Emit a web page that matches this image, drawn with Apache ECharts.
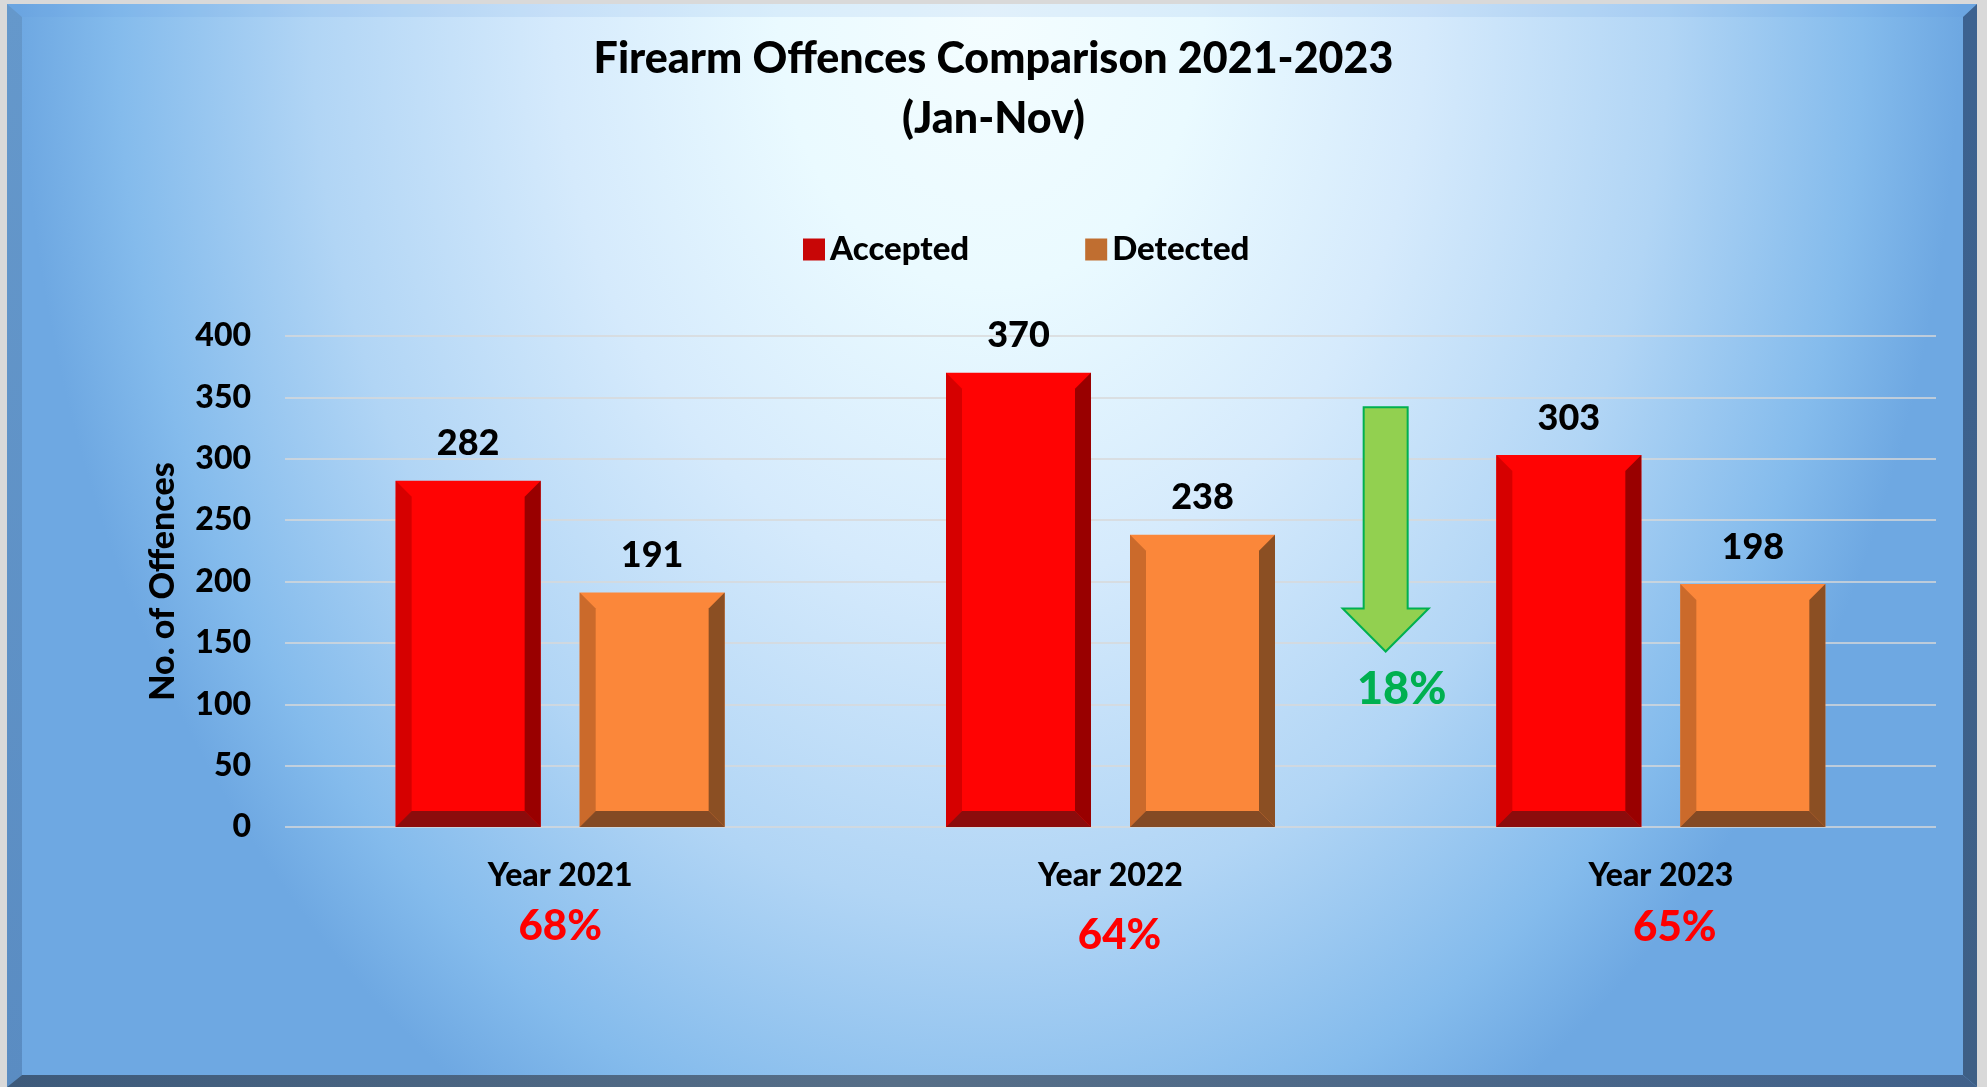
<!DOCTYPE html>
<html>
<head>
<meta charset="utf-8">
<title>Firearm Offences Comparison 2021-2023</title>
<script src="https://cdn.jsdelivr.net/npm/echarts@6/dist/echarts.min.js"></script>
<style>
    html, body { margin: 0; padding: 0; background: #d9d9d9; }
    #main { width: 1987px; height: 1087px; }
</style>
</head>
<body>
<div id="main"></div>
<script>
// data
var years = ['Year 2021', 'Year 2022', 'Year 2023'];
var accepted = [282, 370, 303];
var detected = [191, 238, 198];
var detectionRate = ['68%', '64%', '65%'];
var dropText = '18%';
var yMin = 0, yMax = 400, yStep = 50;

var FONT = 'Lato, "Open Sans", sans-serif';
var W = 900; // heavy weight, closer to the original's bold face
var BAR_W = 145;
var BAR_SHIFT = 92;
var BEVEL = 16;

var redBar = { face: '#ff0303', left: '#d60000', right: '#990000', bottom: '#8c0c0c' };
var orangeBar = { face: '#fb873a', left: '#cb6a2b', right: '#8b4f23', bottom: '#844a24' };

function bevelBar(shift, c) {
    return function (params, api) {
        var w = BAR_W, b = BEVEL;
        var top = api.coord([api.value(0), api.value(1)]);
        var base = api.coord([api.value(0), 0]);
        var x0 = top[0] + shift - w / 2, x1 = x0 + w;
        var y0 = top[1], y1 = base[1];
        return {
            type: 'group',
            children: [
                { type: 'rect', shape: { x: x0, y: y0, width: w, height: y1 - y0 }, style: { fill: c.face } },
                { type: 'polygon', shape: { points: [[x0, y0], [x0 + b, y0 + b], [x0 + b, y1 - b], [x0, y1]] }, style: { fill: c.left } },
                { type: 'polygon', shape: { points: [[x1, y0], [x1 - b, y0 + b], [x1 - b, y1 - b], [x1, y1]] }, style: { fill: c.right } },
                { type: 'polygon', shape: { points: [[x0, y1], [x0 + b, y1 - b], [x1 - b, y1 - b], [x1, y1]] }, style: { fill: c.bottom } },
                {
                    type: 'text', x: (x0 + x1) / 2, y: y0 - 37,
                    style: {
                        text: String(api.value(1)), fill: '#000', font: W + ' 36px ' + FONT,
                        align: 'center', verticalAlign: 'middle', textAlign: 'center', textVerticalAlign: 'middle'
                    }
                }
            ]
        };
    };
}

var dom = document.getElementById('main');
var myChart = echarts.init(dom, null, { renderer: 'canvas' });

var option = {
    backgroundColor: '#d9d9d9',
    animation: false,
    title: {
        text: 'Firearm Offences Comparison 2021-2023\n(Jan-Nov)',
        left: 'center',
        top: 24,
        textStyle: { fontFamily: FONT, fontSize: 43, fontWeight: W, color: '#000', lineHeight: 60 }
    },
    legend: {
        left: 798,
        top: 228,
        itemWidth: 22,
        itemHeight: 22,
        itemGap: 116,
        icon: 'rect',
        textStyle: { fontFamily: FONT, fontSize: 33, fontWeight: W, color: '#000' },
        data: [
            { name: 'Accepted', itemStyle: { color: '#c80606' } },
            { name: 'Detected', itemStyle: { color: '#c06e30' } }
        ]
    },
    grid: { left: 285, right: 51, top: 336, bottom: 260 },
    xAxis: {
        type: 'category',
        data: years,
        axisLine: { show: false },
        axisTick: { show: false },
        axisLabel: {
            interval: 0,
            margin: 29,
            fontFamily: FONT,
            fontSize: 32,
            fontWeight: W,
            color: '#000',
            lineHeight: 40,
            formatter: function (value, index) {
                return value + '\n{p' + index + '|' + detectionRate[index] + '}';
            },
            rich: {
                p0: { color: '#ff0000', fontFamily: FONT, fontSize: 42, fontWeight: W, lineHeight: 60, verticalAlign: 'middle' },
                p1: { color: '#ff0000', fontFamily: FONT, fontSize: 42, fontWeight: W, lineHeight: 78, verticalAlign: 'middle', padding: [0, 0, 0, 18] },
                p2: { color: '#ff0000', fontFamily: FONT, fontSize: 42, fontWeight: W, lineHeight: 62, verticalAlign: 'middle', padding: [0, 0, 0, 28] }
            }
        }
    },
    yAxis: {
        type: 'value',
        min: yMin,
        max: yMax,
        interval: yStep,
        name: 'No. of Offences',
        nameLocation: 'middle',
        nameGap: 105,
        nameTextStyle: { fontFamily: FONT, fontSize: 34, fontWeight: W, color: '#000' },
        axisLine: { show: false },
        axisTick: { show: false },
        axisLabel: { margin: 34, fontFamily: FONT, fontSize: 32, fontWeight: W, color: '#000' },
        splitLine: { show: true, lineStyle: { color: '#d9d9d9', width: 1.5 } }
    },
    series: [
        {
            name: 'Accepted',
            type: 'custom',
            itemStyle: { color: '#c80606' },
            encode: { x: 0, y: 1 },
            renderItem: bevelBar(-BAR_SHIFT, redBar),
            data: accepted.map(function (v, i) { return [i, v]; }),
            z: 3
        },
        {
            name: 'Detected',
            type: 'custom',
            itemStyle: { color: '#c06e30' },
            encode: { x: 0, y: 1 },
            renderItem: bevelBar(BAR_SHIFT, orangeBar),
            data: detected.map(function (v, i) { return [i, v]; }),
            z: 3
        }
    ]
};
myChart.setOption(option);

// frame, background and the drop arrow between 2022 and 2023
var xa = myChart.convertToPixel({ xAxisIndex: 0 }, years[1]);
var xb = myChart.convertToPixel({ xAxisIndex: 0 }, years[2]);
var cx = (xa + xb) / 2;
var yTop = myChart.convertToPixel({ yAxisIndex: 0 }, 342);
var yNeck = myChart.convertToPixel({ yAxisIndex: 0 }, 178);
var yTip = myChart.convertToPixel({ yAxisIndex: 0 }, 143);
var yDrop = myChart.convertToPixel({ yAxisIndex: 0 }, 112);

var panelH = (1087 - 4) / 1.33;
myChart.setOption({
    graphic: [
        {
            type: 'rect', id: 'panel', x: 7, y: 4, scaleY: 1.33, z: -10, silent: true,
            shape: { x: 0, y: 0, width: 1970, height: panelH },
            style: {
                fill: {
                    type: 'radial', x: 0.499, y: 0, r: 970 / panelH,
                    colorStops: [
                        { offset: 0, color: '#f4fdff' },
                        { offset: 0.22, color: '#eafaff' },
                        { offset: 0.45, color: '#d5eafc' },
                        { offset: 0.7, color: '#b1d5f5' },
                        { offset: 0.9, color: '#84bbec' },
                        { offset: 1, color: '#6ea8e2' }
                    ]
                }
            }
        },
        {
            type: 'polygon', id: 'bevelLeft', z: -9, silent: true,
            shape: { points: [[7, 4], [22, 17], [22, 1075], [7, 1087]] },
            style: { fill: { type: 'linear', x: 0, y: 0, x2: 0, y2: 1, colorStops: [{ offset: 0, color: '#6598cb' }, { offset: 1, color: '#5a8cc2' }] } }
        },
        {
            type: 'polygon', id: 'bevelTop', z: -9, silent: true,
            shape: { points: [[7, 4], [1977, 4], [1963, 17], [22, 17]] },
            style: { fill: 'rgba(90,150,220,0.12)' }
        },
        {
            type: 'polygon', id: 'bevelRight', z: -9, silent: true,
            shape: { points: [[1977, 4], [1977, 1087], [1963, 1075], [1963, 17]] },
            style: { fill: { type: 'linear', x: 0, y: 0, x2: 0, y2: 1, colorStops: [{ offset: 0, color: '#3c6290' }, { offset: 1, color: '#3e5f85' }] } }
        },
        {
            type: 'polygon', id: 'bevelBottom', z: -9, silent: true,
            shape: { points: [[7, 1087], [22, 1075], [1963, 1075], [1977, 1087]] },
            style: {
                fill: {
                    type: 'linear', x: 0, y: 0, x2: 1, y2: 0,
                    colorStops: [{ offset: 0, color: '#3d5a7b' }, { offset: 0.45, color: '#576f88' }, { offset: 1, color: '#41618a' }]
                }
            }
        },
        {
            type: 'polygon', id: 'arrow', z: 10,
            shape: {
                points: [
                    [cx - 22, yTop], [cx + 22, yTop], [cx + 22, yNeck], [cx + 43, yNeck],
                    [cx, yTip], [cx - 43, yNeck], [cx - 22, yNeck]
                ]
            },
            style: { fill: '#92d050', stroke: '#00b050', lineWidth: 2 }
        },
        {
            type: 'text', id: 'dropText', z: 10, x: cx + 16, y: yDrop,
            style: {
                text: dropText, fill: '#00b050', font: W + ' 45px ' + FONT,
                align: 'center', verticalAlign: 'middle', textAlign: 'center', textVerticalAlign: 'middle'
            }
        }
    ]
});
</script>
</body>
</html>
